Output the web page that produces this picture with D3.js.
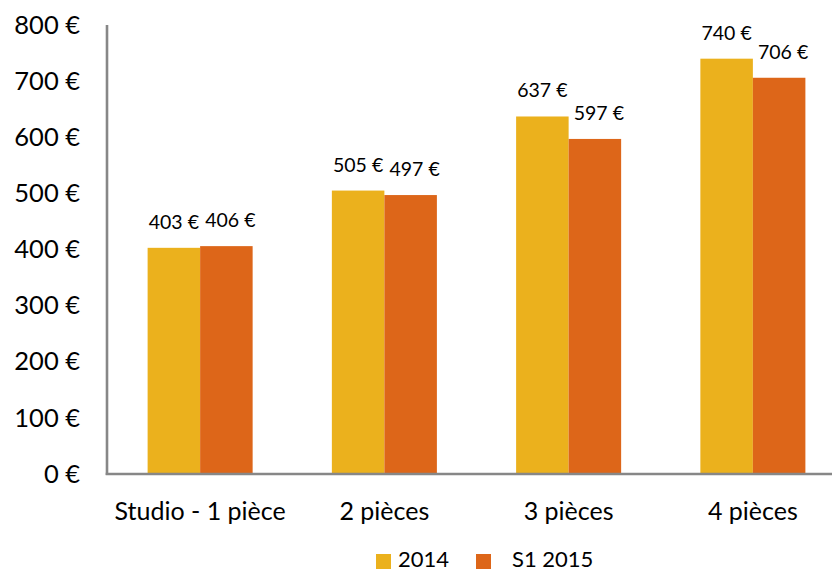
<!DOCTYPE html>
<html>
<head>
<meta charset="utf-8">
<script src="https://cdn.jsdelivr.net/npm/d3@7"></script>
<style>
  html, body { margin: 0; padding: 0; background: #fff; }
  svg { display: block; }
  text { font-family: Lato, "Open Sans", sans-serif; fill: #000; }
</style>
</head>
<body>
<svg id="chart" width="832" height="572"></svg>
<script>
// Average rent by apartment size
const categories = ["Studio - 1 pièce", "2 pièces", "3 pièces", "4 pièces"];
const seriesNames = ["2014", "S1 2015"];
const values2014 = [403, 505, 637, 740];
const valuesS12015 = [406, 497, 597, 706];
const yTicks = [0, 100, 200, 300, 400, 500, 600, 700, 800];
const colors = ["#EBB11D", "#DD6619"];

const series = [values2014, valuesS12015];
const svg = d3.select("#chart");

const y = d3.scaleLinear().domain([0, 800]).range([474, 25]);
const x0 = d3.scaleBand().domain(categories).range([108, 845])
  .paddingInner(0.43).paddingOuter(0.215);
const x1 = d3.scaleBand().domain(seriesNames).range([0, x0.bandwidth()]);

const euro = d => d + " €";

// bars
const groups = svg.append("g").selectAll("g")
  .data(categories).join("g")
  .attr("transform", d => `translate(${x0(d)},0)`);

groups.selectAll("rect")
  .data((c, i) => seriesNames.map((s, k) => ({ s, k, v: series[k][i] })))
  .join("rect")
  .attr("x", d => x1(d.s))
  .attr("y", d => y(d.v))
  .attr("width", x1.bandwidth())
  .attr("height", d => y(0) - y(d.v))
  .attr("fill", d => colors[d.k]);

// value labels
groups.selectAll("text")
  .data((c, i) => seriesNames.map((s, k) => ({ s, k, v: series[k][i] })))
  .join("text")
  .attr("x", d => x1(d.s) + x1.bandwidth() / 2 + (d.k === 1 ? 4 : 0))
  .attr("y", d => y(d.v) - 19)
  .attr("text-anchor", "middle")
  .attr("font-size", 19.5)
  .text(d => euro(d.v));

// y axis
const yAxis = d3.axisLeft(y).tickValues(yTicks).tickSize(0).tickPadding(0).tickFormat(euro);
const gy = svg.append("g").attr("transform", "translate(80,0)").call(yAxis);
gy.select(".domain").remove();
gy.selectAll("text")
  .attr("font-size", 25.5)
  .attr("font-family", "Lato, 'Open Sans', sans-serif")
  .attr("fill", "#000");

// axis lines
svg.append("line")
  .attr("x1", 107).attr("x2", 107)
  .attr("y1", y(800)).attr("y2", y(0) + 1)
  .attr("stroke", "#878787").attr("stroke-width", 2.6);

// x axis
const xAxis = d3.axisBottom(x0).tickSize(0).tickPadding(0);
const gx = svg.append("g").attr("transform", `translate(0,${y(0)})`).call(xAxis);
gx.select(".domain").remove();
gx.selectAll("text")
  .attr("dy", 0)
  .attr("y", 46)
  .attr("font-size", 25)
  .attr("font-family", "Lato, 'Open Sans', sans-serif")
  .attr("fill", "#000");

svg.append("line")
  .attr("x1", 105.7).attr("x2", 832)
  .attr("y1", y(0)).attr("y2", y(0))
  .attr("stroke", "#878787").attr("stroke-width", 2.6);

// legend
const legendX = [376, 476];
const legendTextX = [398, 512];
const legend = svg.append("g").selectAll("g")
  .data(seriesNames).join("g");
legend.append("rect")
  .attr("x", (d, i) => legendX[i]).attr("y", 554)
  .attr("width", 15).attr("height", 15)
  .attr("fill", (d, i) => colors[i]);
legend.append("text")
  .attr("x", (d, i) => legendTextX[i]).attr("y", 567)
  .attr("font-size", 22)
  .text(d => d);
</script>
</body>
</html>
